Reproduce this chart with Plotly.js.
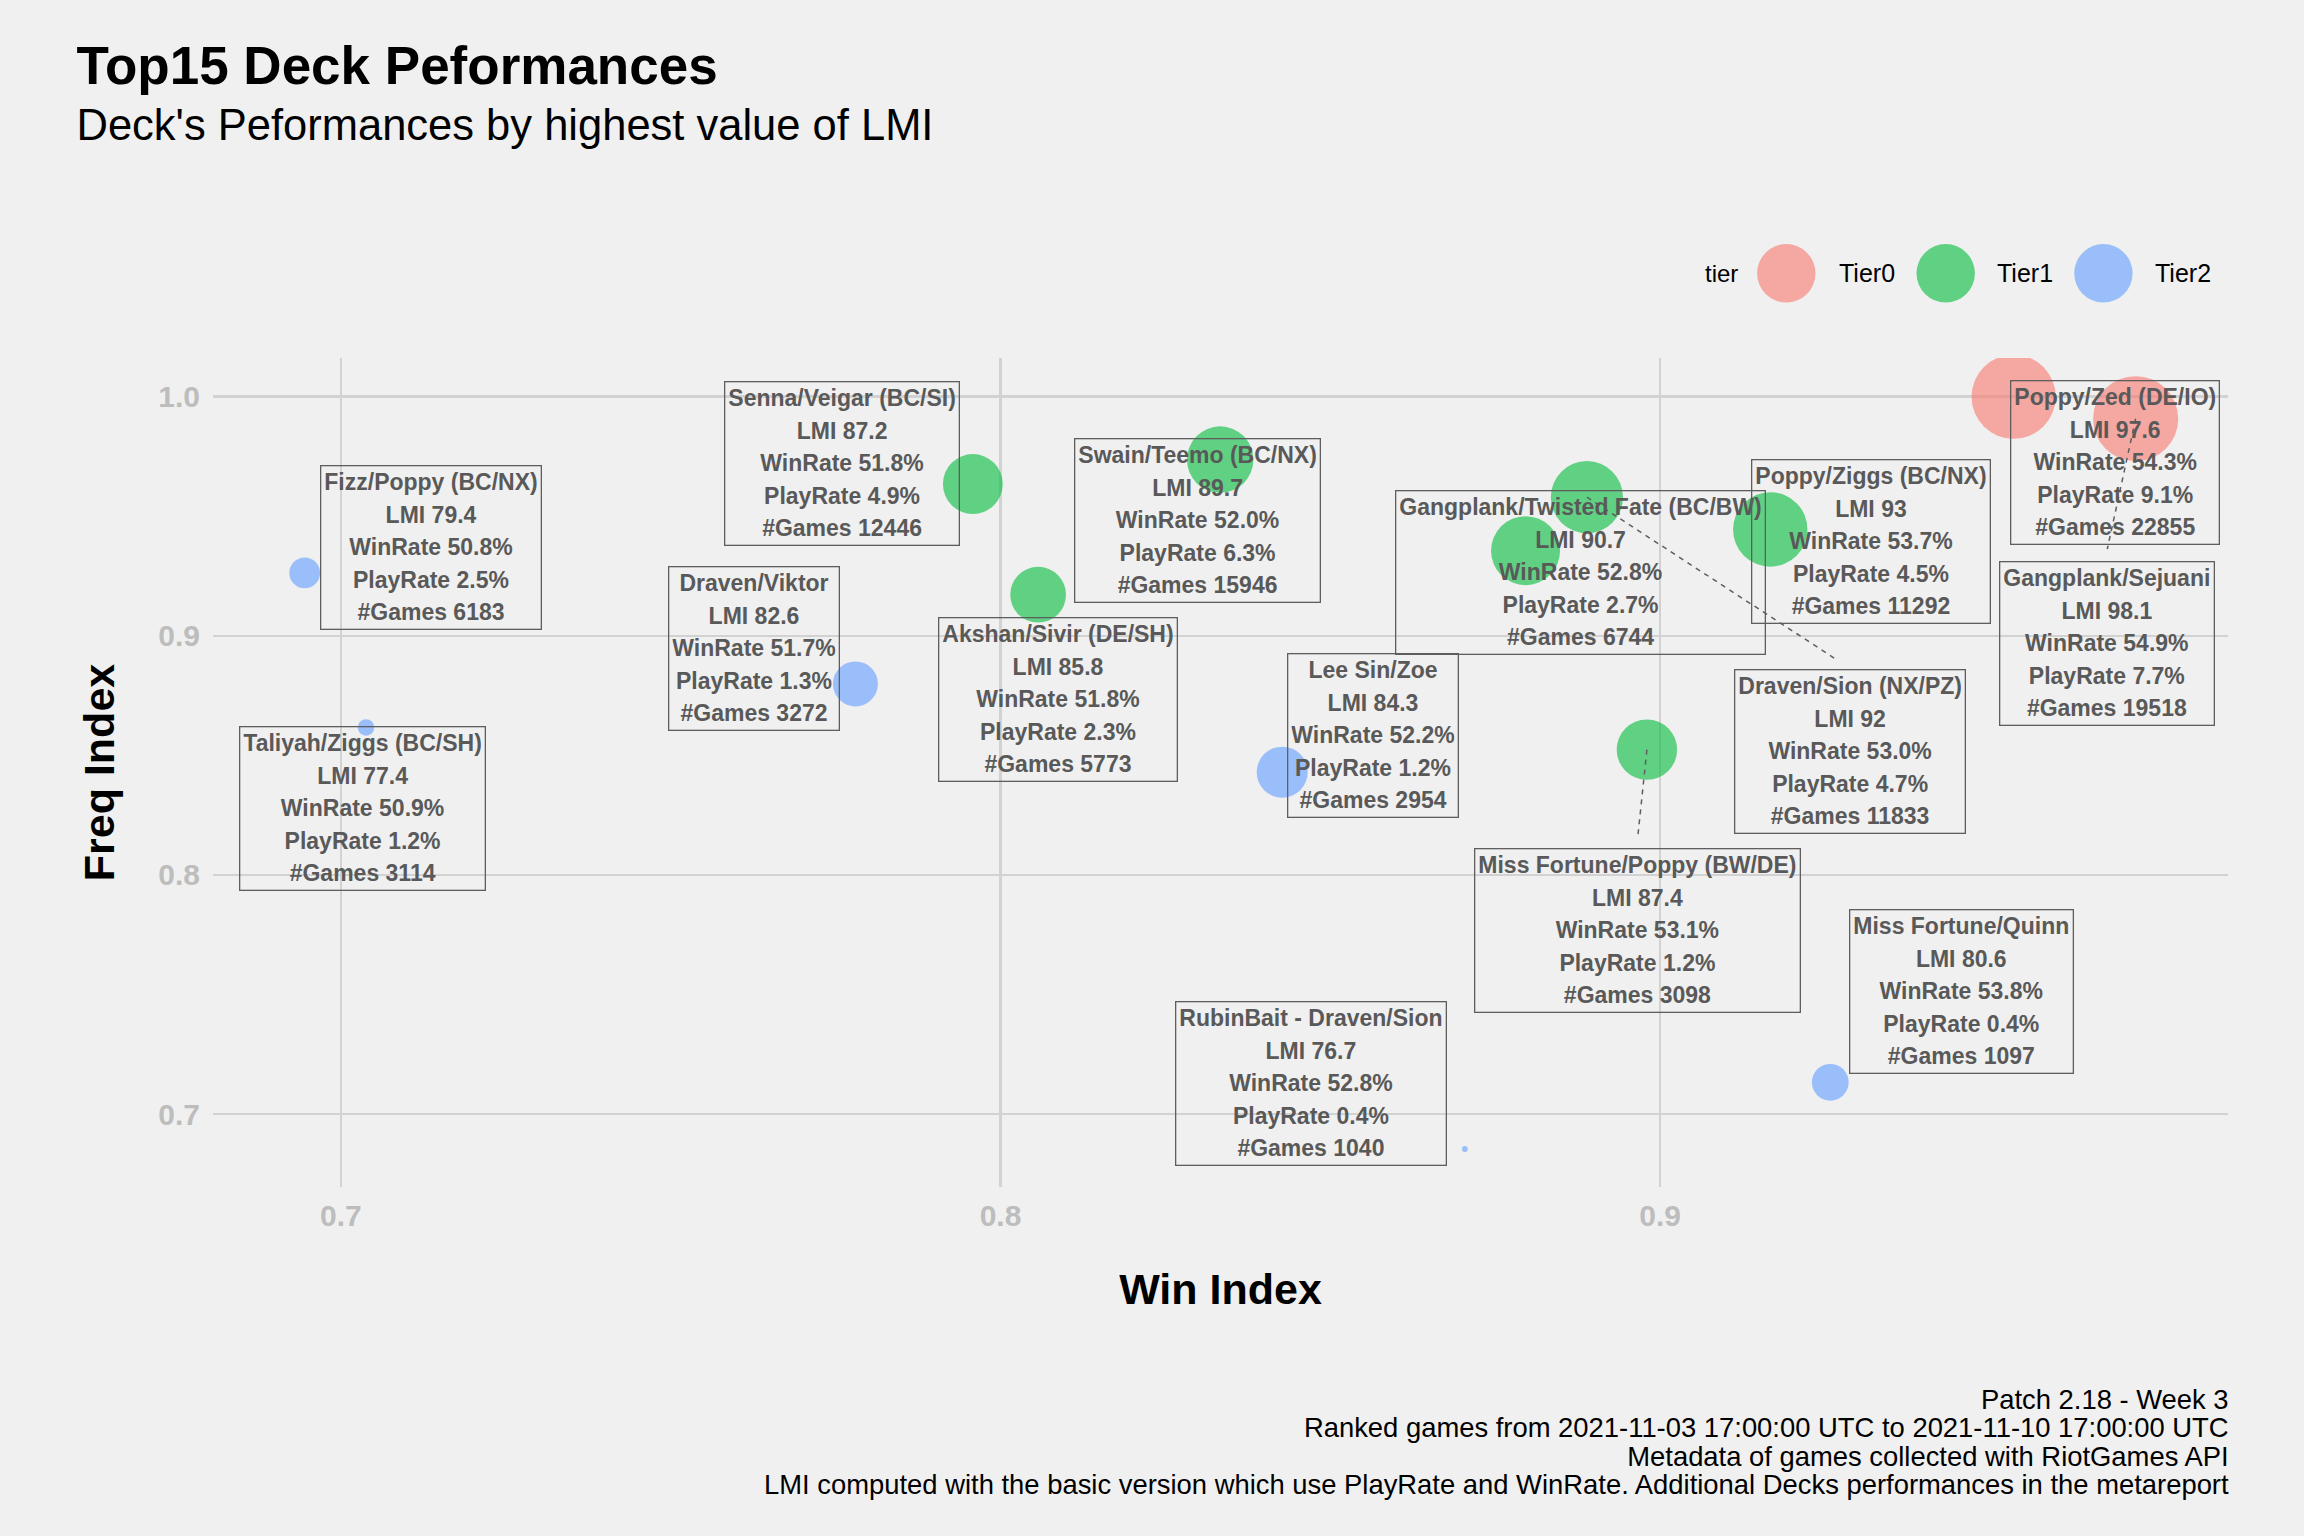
<!DOCTYPE html>
<html>
<head>
<meta charset="utf-8">
<script src="https://cdn.plot.ly/plotly-3.0.1.min.js"></script>
<style>html,body{margin:0;padding:0;background:#F0F0F0;}</style>
</head>
<body>
<div id="chart" style="width:2304px;height:1536px;"></div>
<script>
// ---------------- data ----------------
const decks = ["Poppy/Zed (DE/IO)", "Gangplank/Sejuani", "Swain/Teemo (BC/NX)", "Senna/Veigar (BC/SI)",
  "Akshan/Sivir (DE/SH)", "Gangplank/Twisted Fate (BC/BW)", "Draven/Sion (NX/PZ)", "Poppy/Ziggs (BC/NX)",
  "Miss Fortune/Poppy (BW/DE)", "Fizz/Poppy (BC/NX)", "Taliyah/Ziggs (BC/SH)", "Draven/Viktor",
  "Lee Sin/Zoe", "Miss Fortune/Quinn", "RubinBait - Draven/Sion"];
const tier = ["Tier0", "Tier0", "Tier1", "Tier1", "Tier1", "Tier1", "Tier1", "Tier1", "Tier1",
  "Tier2", "Tier2", "Tier2", "Tier2", "Tier2", "Tier2"];
const lmi = [97.6, 98.1, 89.7, 87.2, 85.8, 90.7, 92, 93, 87.4, 79.4, 77.4, 82.6, 84.3, 80.6, 76.7];
const winRate = [54.3, 54.9, 52.0, 51.8, 51.8, 52.8, 53.0, 53.7, 53.1, 50.8, 50.9, 51.7, 52.2, 53.8, 52.8];
const playRate = [9.1, 7.7, 6.3, 4.9, 2.3, 2.7, 4.7, 4.5, 1.2, 2.5, 1.2, 1.3, 1.2, 0.4, 0.4];
const games = [22855, 19518, 15946, 12446, 5773, 6744, 11833, 11292, 3098, 6183, 3114, 3272, 2954, 1097, 1040];
const winIndex = [0.9536, 0.9721, 0.8333, 0.7958, 0.8057, 0.8796, 0.8889, 0.9167, 0.8980, 0.6945, 0.7038, 0.7780, 0.8427, 0.9258, 0.8704];
const freqIndex = [1.0, 0.9908, 0.9737, 0.9635, 0.9172, 0.9356, 0.9580, 0.9445, 0.8524, 0.9263, 0.8617, 0.8799, 0.8430, 0.7133, 0.6854];
const tiers = ["Tier0", "Tier1", "Tier2"];
const xTicks = [0.7, 0.8, 0.9];
const yTicks = [0.7, 0.8, 0.9, 1.0];

// ---------------- layout helpers (label placement, styles) ----------------
const labelX = [0.9689, 0.9677, 0.8298, 0.7760, 0.8087, 0.8880, 0.9288, 0.9319, 0.8965, 0.7136, 0.7033, 0.7626, 0.8565, 0.9457, 0.8471];
const labelY = [0.9726, 0.8970, 0.9484, 0.9722, 0.8732, 0.9263, 0.8515, 0.9396, 0.7766, 0.9368, 0.8278, 0.8949, 0.8584, 0.7513, 0.7129];
// dashed connector ends (label side) for long leader lines
const connectors = [
  {i: 6, x: 0.9264, y: 0.8907},
  {i: 1, x: 0.9678, y: 0.9363},
  {i: 8, x: 0.8966, y: 0.8155}
];
const tierColors = {Tier0: "#F8766D", Tier1: "#00BA38", Tier2: "#619CFF"};
const FONT = "Liberation Sans, Arial, sans-serif";
const W = 2304, H = 1536;
const M = {l: 213, r: 76, t: 358, b: 349};
const sizeOffset = 76.6;

// ---------------- traces ----------------
const traces = tiers.map(t => {
  const idx = decks.map((d, i) => i).filter(i => tier[i] === t);
  return {
    type: "scatter", mode: "markers", name: t,
    x: idx.map(i => winIndex[i]),
    y: idx.map(i => freqIndex[i]),
    text: idx.map(i => decks[i]),
    marker: {
      color: tierColors[t], opacity: 0.6,
      size: idx.map(i => lmi[i] - sizeOffset),
      sizemode: "area", sizeref: 0.005924,
      line: {width: 0}
    },
    hoverinfo: "text",
    showlegend: false
  };
});

// ---------------- annotations ----------------
const sp = s => '<span style="font-size:23px">' + s + '</span>';
const annotations = decks.map((d, i) => ({
  xref: "x", yref: "y", x: labelX[i], y: labelY[i],
  text: [d, "LMI " + lmi[i], "WinRate " + winRate[i].toFixed(1) + "%",
         "PlayRate " + playRate[i].toFixed(1) + "%", "#Games " + games[i]].map(sp).join("<br>"),
  showarrow: false,
  font: {family: FONT, size: 25, color: "#595959", weight: "bold"},
  align: "center", valign: "middle",
  bordercolor: "#5E5E5E", borderwidth: 1.3, borderpad: 3, height: 156,
  bgcolor: "rgba(0,0,0,0)"
}));

// legend (custom, large keys)
const plotW = W - M.l - M.r, plotH = H - M.t - M.b;
const px2x = px => (px - M.l) / plotW;
const py2y = py => (H - M.b - py) / plotH;
const legY = py2y(273.3);
const legCenters = [1786.3, 1945.7, 2103.4];
const legTextX = [1836.6, 1995, 2153];
annotations.push({xref: "paper", yref: "paper", x: px2x(1703), y: legY, xanchor: "left", yanchor: "middle",
  text: "tier", showarrow: false, font: {family: FONT, size: 24, color: "#000"}});
tiers.forEach((t, k) => {
  annotations.push({xref: "paper", yref: "paper", x: px2x(legTextX[k]), y: legY, xanchor: "left", yanchor: "middle",
    text: t, showarrow: false, font: {family: FONT, size: 25, color: "#000"}});
});

// caption
const capLines = ["Patch 2.18 - Week 3",
  "Ranked games from 2021-11-03 17:00:00 UTC to 2021-11-10 17:00:00 UTC",
  "Metadata of games collected with RiotGames API",
  "LMI computed with the basic version which use PlayRate and WinRate. Additional Decks performances in the metareport"];
annotations.push({
  xref: "paper", yref: "paper", x: 1 + 3 / plotW, y: py2y(1382), xanchor: "right", yanchor: "top", align: "right",
  text: capLines.map(s => '<span style="font-size:27.4px">' + s + '</span>').join("<br>"),
  showarrow: false, font: {family: FONT, size: 21.8, color: "#000"}
});

// shapes: legend keys + connectors
const shapes = tiers.map((t, k) => ({
  type: "circle", xref: "paper", yref: "paper", xsizemode: "pixel", ysizemode: "pixel",
  xanchor: px2x(legCenters[k]), yanchor: legY, x0: -29.2, x1: 29.2, y0: -29.2, y1: 29.2,
  fillcolor: tierColors[t], opacity: 0.6, line: {width: 0}
}));
connectors.forEach(c => {
  shapes.push({type: "line", xref: "x", yref: "y",
    x0: winIndex[c.i], y0: freqIndex[c.i], x1: c.x, y1: c.y,
    line: {color: "#5E5E5E", width: 1.5, dash: "5px,5px"}});
});

const axisCommon = {
  showgrid: true, gridcolor: "#D2D2D2", gridwidth: 2.5, zeroline: false, showline: false,
  ticks: "", tickformat: ".1f",
  tickfont: {family: FONT, size: 30, color: "#BDBDBD", weight: "bold"}
};

const layout = {
  width: W, height: H, autosize: false,
  paper_bgcolor: "#F0F0F0", plot_bgcolor: "#F0F0F0",
  margin: {l: M.l, r: M.r, t: M.t, b: M.b, pad: 0},
  font: {family: FONT},
  title: {
    text: '<span style="font-size:53px"><b>Top15 Deck Peformances</b></span><br>' +
          '<span style="font-size:43.5px">Deck\'s Peformances by highest value of LMI</span>',
    font: {family: FONT, size: 43, color: "#000"},
    x: 76.5 / W, xref: "container", xanchor: "left",
    y: 1 - 84 / H, yref: "container", yanchor: "top"
  },
  xaxis: Object.assign({}, axisCommon, {
    range: [0.6806, 0.9861], tickvals: xTicks, ticklabelstandoff: 8,
    title: {text: "Win Index", font: {family: FONT, size: 43, color: "#000", weight: "bold"}, standoff: 42}
  }),
  yaxis: Object.assign({}, axisCommon, {
    range: [0.6695, 1.0162], tickvals: yTicks, ticklabelstandoff: 12,
    title: {text: "Freq Index", font: {family: FONT, size: 43, color: "#000", weight: "bold"}, standoff: 30}
  }),
  annotations: annotations,
  shapes: shapes,
  showlegend: false,
  hovermode: "closest"
};

Plotly.newPlot("chart", traces, layout, {displayModeBar: false, staticPlot: true});
</script>
</body>
</html>
